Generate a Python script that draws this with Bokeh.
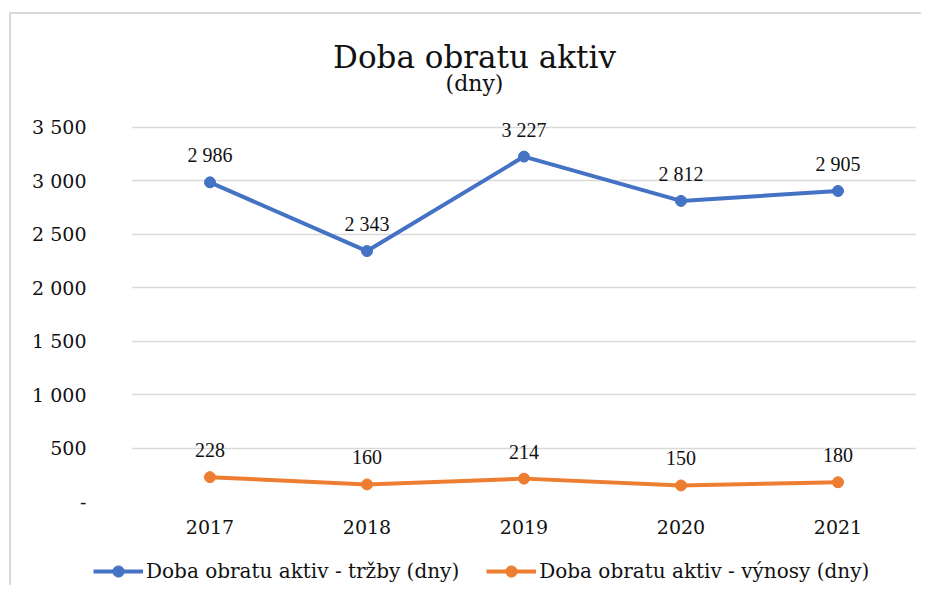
from bokeh.plotting import figure
from bokeh.models import (ColumnDataSource, FixedTicker, Label, LabelSet, Legend,
                          LegendItem, Range1d, FactorRange)
from bokeh.embed import file_html
from bokeh.resources import INLINE

years = ["2017", "2018", "2019", "2020", "2021"]
trzby = [2986, 2343, 3227, 2812, 2905]
vynosy = [228, 160, 214, 150, 180]
y_ticks = [0, 500, 1000, 1500, 2000, 2500, 3000, 3500]
title_text = "Doba obratu aktiv"
subtitle_text = "(dny)"
name_trzby = "Doba obratu aktiv - tržby (dny)"
name_vynosy = "Doba obratu aktiv - výnosy (dny)"

def fmt(v):
    return "-" if v == 0 else f"{v:,}".replace(",", " ")

BLUE = "#4472C4"
ORANGE = "#ED7D31"
FONT = "DejaVu Serif"
TXT = "#111111"

src1 = ColumnDataSource(dict(x=years, y=trzby, t=[fmt(v) for v in trzby]))
src2 = ColumnDataSource(dict(x=years, y=vynosy, t=[fmt(v) for v in vynosy]))

# main chart: frame extends above the 3 500 gridline so that the title fits inside it
p = figure(x_range=FactorRange(*years, range_padding=0), y_range=Range1d(0, 4500),
           width=912, height=527, output_backend="svg", toolbar_location=None,
           min_border_left=120, min_border_right=7, min_border_top=6, min_border_bottom=40,
           styles={"border-top": "2px solid #d9d9d9", "border-left": "2px solid #d9d9d9",
                   "margin-top": "12px", "margin-left": "9px"})
p.outline_line_color = None
p.background_fill_color = "white"
p.border_fill_color = "white"

p.xgrid.grid_line_color = None
p.ygrid.grid_line_color = "#d9d9d9"
p.ygrid.grid_line_width = 1.5
p.yaxis.ticker = FixedTicker(ticks=y_ticks)
p.yaxis.major_label_overrides = {v: fmt(v) for v in y_ticks}
for ax in (p.xaxis[0], p.yaxis[0]):
    ax.axis_line_color = None
    ax.major_tick_line_color = None
    ax.minor_tick_line_color = None
    ax.major_tick_out = 0
    ax.major_tick_in = 0
    ax.major_label_text_font = FONT
    ax.major_label_text_font_size = "19px"
    ax.major_label_text_color = TXT
p.yaxis.major_label_standoff = 45
p.xaxis.major_label_standoff = 18

p.line("x", "y", source=src1, line_color=BLUE, line_width=4)
p.scatter("x", "y", source=src1, size=11, fill_color=BLUE, line_color=BLUE)
p.line("x", "y", source=src2, line_color=ORANGE, line_width=4)
p.scatter("x", "y", source=src2, size=11, fill_color=ORANGE, line_color=ORANGE)

for s in (src1, src2):
    p.add_layout(LabelSet(x="x", y="y", text="t", source=s, y_offset=20,
                          text_align="center", text_baseline="alphabetic",
                          text_font=FONT, text_font_size="20px", text_color=TXT))

p.add_layout(Label(x=343, y=445, x_units="screen", y_units="screen", text=title_text,
                   text_align="center", text_baseline="alphabetic",
                   text_font=FONT, text_font_size="31px", text_color=TXT))
p.add_layout(Label(x=343, y=418, x_units="screen", y_units="screen", text=subtitle_text,
                   text_align="center", text_baseline="alphabetic",
                   text_font=FONT, text_font_size="22px", text_color=TXT))

# legend strip below the chart (its lines lie far above its own y range, so only the legend shows)
q = figure(x_range=FactorRange(*years, range_padding=0), y_range=Range1d(0, 1), width=912, height=46,
           output_backend="svg", toolbar_location=None, x_axis_type=None, y_axis_type=None,
           min_border_left=0, min_border_right=0, min_border_top=0, min_border_bottom=0,
           styles={"border-left": "2px solid #d9d9d9", "margin-left": "9px"})
q.outline_line_color = None
q.grid.visible = False
q.background_fill_color = "white"
q.border_fill_color = "white"
l1 = q.line(x=years, y=trzby, line_color=BLUE, line_width=4)
m1 = q.scatter(x=years, y=trzby, size=11, fill_color=BLUE, line_color=BLUE)
l2 = q.line(x=years, y=vynosy, line_color=ORANGE, line_width=4)
m2 = q.scatter(x=years, y=vynosy, size=11, fill_color=ORANGE, line_color=ORANGE)

legend = Legend(items=[LegendItem(label=name_trzby, renderers=[l1, m1]),
                       LegendItem(label=name_vynosy, renderers=[l2, m2])],
                orientation="horizontal", location=(82, 0),
                glyph_width=50, glyph_height=28, label_standoff=3, spacing=27,
                padding=0, margin=0, border_line_color=None, background_fill_alpha=0,
                label_text_font=FONT, label_text_font_size="20px", label_text_color=TXT)
q.add_layout(legend, "center")

open("out.html", "w").write(file_html([p, q], INLINE))
